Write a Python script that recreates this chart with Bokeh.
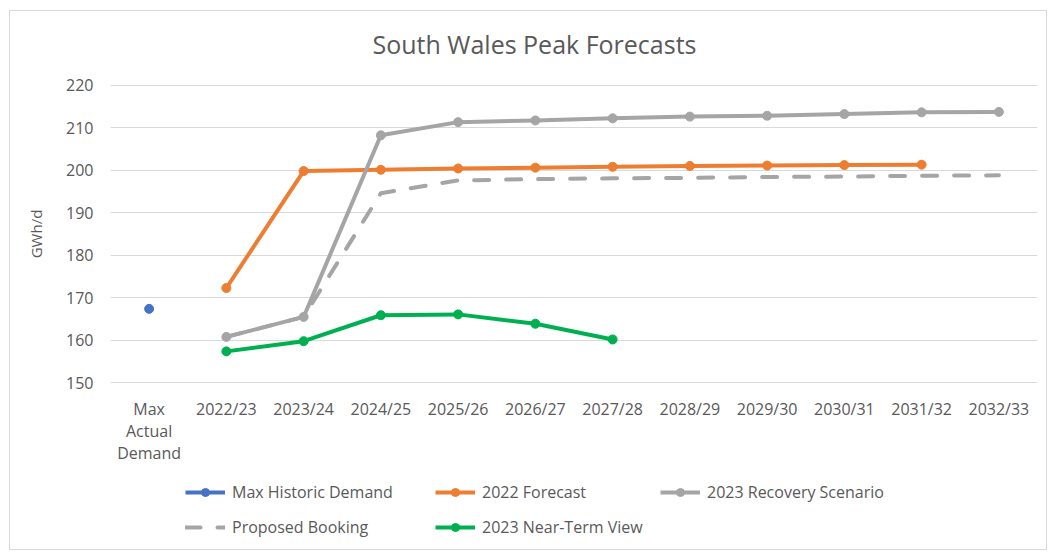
from bokeh.plotting import figure
from bokeh.layouts import column
from bokeh.models import (FactorRange, Range1d, Legend, LegendItem, ColumnDataSource,
                          SingleIntervalTicker, Label)
from bokeh.core.properties import value
from bokeh.embed import file_html
from bokeh.resources import INLINE

# ---- data ----
categories = ["Max Actual Demand", "2022/23", "2023/24", "2024/25", "2025/26", "2026/27",
              "2027/28", "2028/29", "2029/30", "2030/31", "2031/32", "2032/33"]
category_labels = ["Max\nActual\nDemand", "2022/23", "2023/24", "2024/25", "2025/26", "2026/27",
                   "2027/28", "2028/29", "2029/30", "2030/31", "2031/32", "2032/33"]
years = categories[1:]

max_hist_x = ["Max Actual Demand"]
max_hist = [167.4]

forecast_2022_x = years[:10]
forecast_2022 = [172.3, 199.8, 200.1, 200.4, 200.6, 200.8, 201.0, 201.1, 201.2, 201.3]

recovery_2023_x = years
recovery_2023 = [160.8, 165.5, 208.2, 211.3, 211.7, 212.2, 212.6, 212.8, 213.2, 213.6, 213.7]

proposed_x = years
proposed = [160.8, 165.5, 194.6, 197.6, 197.9, 198.1, 198.2, 198.4, 198.5, 198.7, 198.8]

near_term_x = years[:6]
near_term = [157.4, 159.8, 165.9, 166.1, 163.9, 160.2]

TITLE = "South Wales Peak Forecasts"
Y_LABEL = "GWh/d"

FONT = "Open Sans"
TXT = "#595959"
BLUE, ORANGE, GRAY, GREEN = "#4472C4", "#ED7D31", "#A5A5A5", "#00B050"
DASH = "15 17"

W = 1036
H_HEAD = 60
H_TOP = 324
H_BOT = 154
LEFT, RIGHT = 100, 9

# ---- title strip (its frame is aligned with the chart frame by the column layout) ----
p0 = figure(width=W, height=H_HEAD, x_range=Range1d(0, 1), y_range=Range1d(0, 1),
            output_backend="svg", toolbar_location=None,
            min_border_left=LEFT, min_border_right=RIGHT, min_border_top=0, min_border_bottom=0)
p0.axis.visible = False
p0.grid.grid_line_color = None
p0.outline_line_color = None
p0.add_layout(Label(x=424, y=H_HEAD - 32, x_units="screen", y_units="screen", text=TITLE,
                    text_align="center", text_baseline="middle", text_font=FONT,
                    text_font_size="25px", text_color=TXT))

# ---- main chart ----
xr = FactorRange(*categories, range_padding=0)

p = figure(x_range=xr, y_range=Range1d(149.85, 220.15),
           width=W, height=H_TOP, output_backend="svg", toolbar_location=None,
           min_border_left=LEFT, min_border_right=RIGHT, min_border_top=13, min_border_bottom=12)

p.outline_line_color = None
p.xgrid.grid_line_color = None
p.ygrid.grid_line_color = "#D9D9D9"
p.ygrid.grid_line_width = 1
p.xaxis.visible = False

p.yaxis.ticker = SingleIntervalTicker(interval=10, num_minor_ticks=0)
p.yaxis.axis_label = Y_LABEL
p.yaxis.axis_label_text_font = FONT
p.yaxis.axis_label_text_font_size = "15px"
p.yaxis.axis_label_text_font_style = "normal"
p.yaxis.axis_label_text_color = TXT
p.yaxis.axis_label_standoff = 17
p.yaxis.major_label_standoff = 17
p.yaxis.major_tick_out = 0
p.yaxis.major_tick_in = 0
p.yaxis.axis_line_color = None
p.yaxis.major_tick_line_color = None
p.yaxis.minor_tick_line_color = None
p.yaxis.major_label_text_font = FONT
p.yaxis.major_label_text_font_size = "16px"
p.yaxis.major_label_text_color = TXT


def series(xs, ys, color, dash="solid", marker=True):
    src = ColumnDataSource(dict(x=xs, y=ys))
    p.line("x", "y", source=src, line_color=color, line_width=4, line_join="round",
           line_dash=dash, line_cap="round" if dash != "solid" else "butt")
    if marker:
        p.scatter("x", "y", source=src, marker="circle", size=9,
                  fill_color=color, line_color=color)


series(max_hist_x, max_hist, BLUE)
series(forecast_2022_x, forecast_2022, ORANGE)
series(recovery_2023_x, recovery_2023, GRAY)
series(proposed_x, proposed, GRAY, dash=DASH, marker=False)
series(near_term_x, near_term, GREEN)

# ---- lower panel: category labels + legend (shares the x range) ----
p2 = figure(x_range=xr, y_range=Range1d(0, H_BOT),
            width=W, height=H_BOT, output_backend="svg", toolbar_location=None,
            min_border_left=LEFT, min_border_right=RIGHT, min_border_top=0, min_border_bottom=0)
p2.axis.visible = False
p2.grid.grid_line_color = None
p2.outline_line_color = None

lab_src = ColumnDataSource(dict(x=categories, t=category_labels, y=[H_BOT - 2] * len(categories)))
p2.text("x", "y", text="t", source=lab_src, text_align="center", text_baseline="top",
        text_font=value(FONT), text_font_size="16px", text_color=TXT, text_line_height=1.0)

NAN = float("nan")


def legend_sample(color, dash="solid", marker=True):
    # a single undrawable (NaN) point: these renderers only supply legend sample glyphs
    src = ColumnDataSource(dict(x=[years[0]], y=[NAN]))
    rs = [p2.line("x", "y", source=src, line_color=color, line_width=4,
                  line_dash=dash, line_cap="round" if dash != "solid" else "butt")]
    if marker:
        rs.append(p2.scatter("x", "y", source=src, marker="circle", size=9,
                             fill_color=color, line_color=color))
    return rs


def make_legend(items, loc):
    lg = Legend(items=items, location=loc, orientation="vertical",
                glyph_width=40, glyph_height=20, label_height=20, label_standoff=7,
                spacing=13, padding=0, margin=0, border_line_color=None,
                background_fill_alpha=0,
                label_text_font=FONT, label_text_font_size="16px", label_text_color=TXT)
    p2.add_layout(lg)
    return lg


make_legend([LegendItem(label="Max Historic Demand", renderers=legend_sample(BLUE)),
             LegendItem(label="Proposed Booking", renderers=legend_sample(GRAY, DASH, False))],
            (75, 11))
make_legend([LegendItem(label="2022 Forecast", renderers=legend_sample(ORANGE)),
             LegendItem(label="2023 Near-Term View", renderers=legend_sample(GREEN))],
            (325, 11))
make_legend([LegendItem(label="2023 Recovery Scenario", renderers=legend_sample(GRAY))],
            (550, 46))

layout = column(p0, p, p2, margin=(10, 0, 0, 9), styles={"border": "1px solid #D9D9D9"})

open("out.html", "w").write(file_html(layout, INLINE))
